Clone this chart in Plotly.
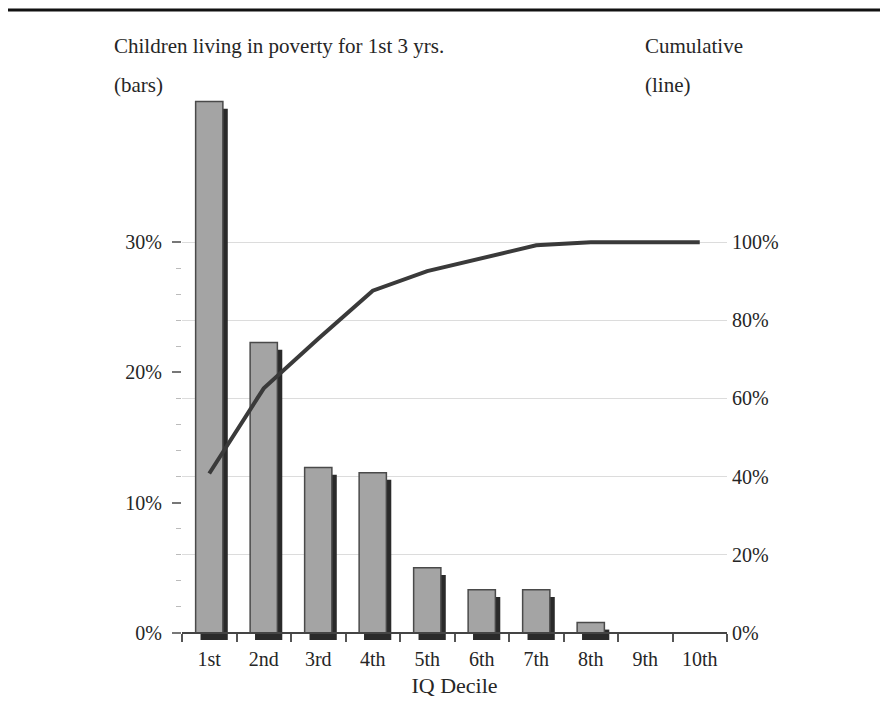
import plotly.graph_objects as go

deciles = ["1st", "2nd", "3rd", "4th", "5th", "6th", "7th", "8th", "9th", "10th"]
poverty_pct = [40.8, 22.3, 12.7, 12.3, 5.0, 3.3, 3.3, 0.8, 0.0, 0.0]
cumulative_pct = [40.8, 62.6, 75.3, 87.6, 92.6, 95.9, 99.2, 100.0, 100.0, 100.0]
left_ticks = [0, 10, 20, 30]
left_ticktext = ["0%", "10%", "20%", "30%"]
left_minor = [2, 4, 6, 8, 12, 14, 16, 18, 22, 24, 26, 28]
right_ticks = [0, 20, 40, 60, 80, 100]
right_ticktext = ["0%", "20%", "40%", "60%", "80%", "100%"]

FONT = "Liberation Serif"
TXT = "#262626"
shadow_drop = 0.55
ymin, ymax = -shadow_drop, 41.0
scale = 100 / 30

fig = go.Figure()
fig.add_trace(go.Bar(x=deciles, y=poverty_pct, base=-shadow_drop, width=0.5, offset=-0.16,
                     marker=dict(color="#2a2a2a", line=dict(width=0)), showlegend=False,
                     hoverinfo="skip"))
fig.add_trace(go.Bar(x=deciles, y=poverty_pct, width=0.5, offset=-0.25,
                     marker=dict(color="#a4a4a4", line=dict(color="#4a4a4a", width=1.5)),
                     showlegend=False))
fig.add_trace(go.Scatter(x=deciles, y=cumulative_pct, yaxis="y2", mode="lines",
                         line=dict(color="#3a3a3a", width=4), showlegend=False))

fig.update_layout(
    width=880, height=700,
    margin=dict(l=174, r=161, t=91, b=68),
    paper_bgcolor="white", plot_bgcolor="white",
    barmode="overlay",
    font=dict(family=FONT, color=TXT, size=20),
    xaxis=dict(
        type="category", range=[-0.5, 9.5],
        anchor="free", position=(0 - ymin) / (ymax - ymin),
        showline=True, linecolor="#444", linewidth=2,
        ticks="outside", tickson="boundaries", ticklen=8, tickcolor="#555", tickwidth=1.5,
        showgrid=False, tickfont=dict(family=FONT, size=20, color=TXT), ticklabelstandoff=8,
        title=dict(text="IQ Decile", font=dict(family=FONT, size=22, color=TXT), standoff=8),
    ),
    yaxis=dict(
        range=[ymin, ymax], tickvals=left_ticks, ticktext=left_ticktext,
        ticks="outside", ticklen=9, tickcolor="#777", tickwidth=1.5,
        showgrid=False, showline=False, zeroline=False,
        minor=dict(tickvals=left_minor, ticks="outside", ticklen=5, tickcolor="#bbb", tickwidth=1, showgrid=False),
        tickfont=dict(family=FONT, size=20, color=TXT), ticklabelstandoff=6,
    ),
    yaxis2=dict(
        overlaying="y", side="right", range=[ymin * scale, ymax * scale],
        tickvals=right_ticks, ticktext=right_ticktext, ticks="",
        showgrid=True, gridcolor="#dcdcdc", gridwidth=1,
        showline=False, zeroline=False,
        tickfont=dict(family=FONT, size=20, color=TXT), ticklabelstandoff=4,
    ),
    shapes=[dict(type="line", xref="paper", yref="paper", x0=-0.33, x1=1.3, y0=1.1645, y1=1.1645,
                 line=dict(color="#111", width=3))],
    annotations=[
        dict(text="Children living in poverty for 1st 3 yrs.", xref="paper", yref="paper",
             x=-0.128, y=1.098, xanchor="left", yanchor="middle", showarrow=False,
             font=dict(family=FONT, size=21, color=TXT)),
        dict(text="(bars)", xref="paper", yref="paper",
             x=-0.128, y=1.026, xanchor="left", yanchor="middle", showarrow=False,
             font=dict(family=FONT, size=21, color=TXT)),
        dict(text="Cumulative", xref="paper", yref="paper",
             x=0.846, y=1.098, xanchor="left", yanchor="middle", showarrow=False,
             font=dict(family=FONT, size=21, color=TXT)),
        dict(text="(line)", xref="paper", yref="paper",
             x=0.846, y=1.026, xanchor="left", yanchor="middle", showarrow=False,
             font=dict(family=FONT, size=21, color=TXT)),
    ],
)

fig.write_html("out.html")
